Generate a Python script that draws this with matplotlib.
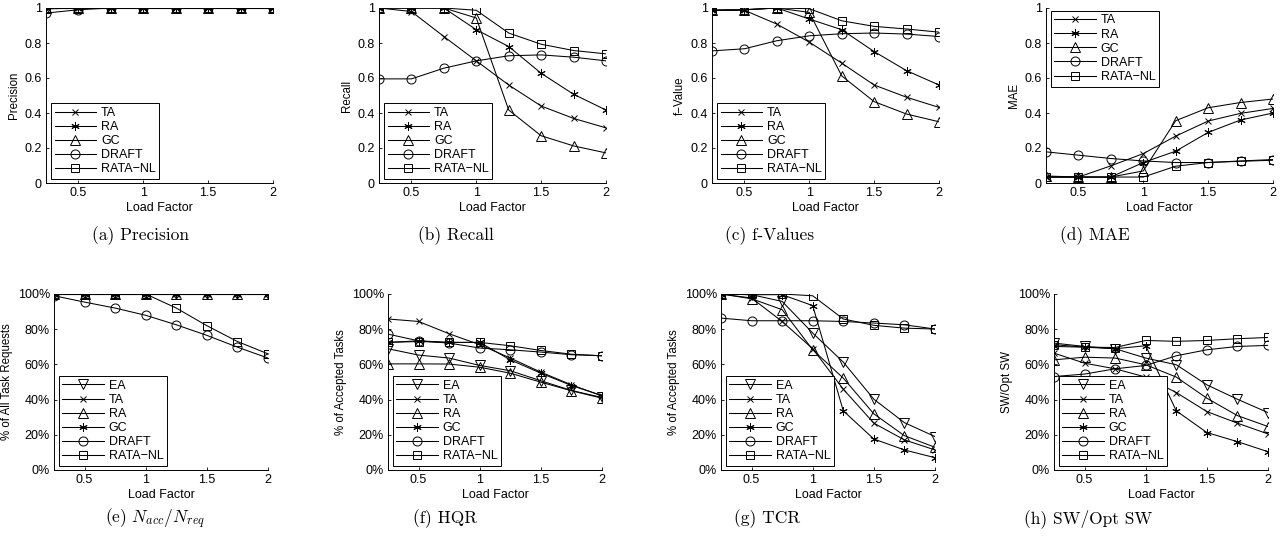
"""
Сравнение алгоритмов распределения задач по Load Factor (8 панелей)
"""

import matplotlib
matplotlib.use('Agg')  # Без GUI
import matplotlib.pyplot as plt

plt.rcParams['font.family'] = ['Liberation Sans', 'DejaVu Sans']
plt.rcParams['mathtext.fontset'] = 'cm'

load_factor = [0.25, 0.5, 0.75, 1.0, 1.25, 1.5, 1.75, 2.0]

# === ВЕРХНИЙ РЯД: Precision / Recall / f-Value / MAE ===
top_names = ['TA', 'RA', 'GC', 'DRAFT', 'RATA\u2212NL']

precision_ta = [0.995, 1.0, 1.0, 1.0, 1.0, 1.0, 1.0, 1.0]
precision_ra = [1.0, 1.0, 1.0, 1.0, 1.0, 1.0, 1.0, 1.0]
precision_gc = [1.0, 1.0, 1.0, 1.0, 1.0, 1.0, 1.0, 1.0]
precision_draft = [0.971, 0.99, 1.0, 1.0, 1.0, 1.0, 1.0, 1.0]
precision_rata = [1.0, 1.0, 1.0, 1.0, 1.0, 1.0, 1.0, 1.0]

recall_ta = [1.0, 0.98, 0.837, 0.698, 0.56, 0.44, 0.369, 0.315]
recall_ra = [1.0, 1.0, 1.0, 0.876, 0.78, 0.627, 0.507, 0.417]
recall_gc = [1.0, 1.0, 1.0, 0.943, 0.417, 0.27, 0.212, 0.172]
recall_draft = [0.595, 0.595, 0.656, 0.698, 0.727, 0.732, 0.719, 0.698]
recall_rata = [1.0, 1.0, 1.0, 0.987, 0.857, 0.793, 0.757, 0.738]

fvalue_ta = [0.987, 0.987, 0.908, 0.805, 0.685, 0.56, 0.49, 0.432]
fvalue_ra = [0.987, 0.99, 1.0, 0.937, 0.876, 0.751, 0.642, 0.56]
fvalue_gc = [0.987, 0.99, 1.0, 0.975, 0.612, 0.465, 0.394, 0.35]
fvalue_draft = [0.755, 0.767, 0.813, 0.841, 0.853, 0.857, 0.851, 0.837]
fvalue_rata = [0.987, 0.99, 1.0, 0.996, 0.927, 0.895, 0.88, 0.862]

mae_ta = [0.034, 0.034, 0.098, 0.168, 0.268, 0.354, 0.398, 0.426]
mae_ra = [0.034, 0.034, 0.034, 0.117, 0.182, 0.289, 0.36, 0.40]
mae_gc = [0.04, 0.034, 0.034, 0.069, 0.356, 0.43, 0.46, 0.48]
mae_draft = [0.178, 0.159, 0.14, 0.126, 0.117, 0.117, 0.124, 0.13]
mae_rata = [0.034, 0.034, 0.034, 0.034, 0.096, 0.117, 0.126, 0.134]

# === НИЖНИЙ РЯД: Nacc/Nreq / HQR / TCR / SW (в процентах) ===
bottom_names = ['EA', 'TA', 'RA', 'GC', 'DRAFT', 'RATA\u2212NL']

nacc_ea = [100, 100, 100, 100, 100, 100, 100, 100]
nacc_ta = [100, 100, 100, 100, 100, 100, 100, 100]
nacc_ra = [100, 100, 100, 100, 100, 100, 100, 100]
nacc_gc = [100, 100, 100, 100, 100, 100, 100, 100]
nacc_draft = [99.0, 95.4, 92.0, 87.9, 82.5, 76.5, 69.8, 63.6]
nacc_rata = [100, 100, 100, 100, 92.0, 82.0, 73.0, 66.0]

hqr_ea = [68.9, 65.3, 63.6, 59.4, 56.4, 50.7, 45.2, 41.2]
hqr_ta = [85.8, 84.4, 77.4, 71.2, 63.6, 55.6, 48.4, 42.1]
hqr_ra = [60.3, 60.3, 60.2, 58.4, 55.0, 49.9, 45.0, 40.8]
hqr_gc = [72.5, 73.4, 72.5, 72.5, 62.6, 55.0, 48.0, 42.3]
hqr_draft = [77.2, 73.4, 72.1, 69.3, 68.3, 67.0, 65.5, 64.9]
hqr_rata = [72.5, 73.0, 72.5, 72.5, 70.6, 67.9, 65.8, 64.9]

tcr_ea = [100, 99.6, 95.8, 77.8, 61.3, 40.2, 26.9, 19.0]
tcr_ta = [100, 97.7, 84.4, 68.9, 45.9, 26.6, 17.1, 11.4]
tcr_ra = [100, 97.3, 91.1, 68.3, 52.2, 31.9, 19.5, 12.9]
tcr_gc = [100, 99.6, 99.6, 93.4, 33.6, 17.6, 11.4, 7.0]
tcr_draft = [86.3, 84.8, 84.8, 84.8, 84.4, 83.5, 82.5, 80.1]
tcr_rata = [100, 100, 100, 99.0, 85.8, 82.2, 80.6, 80.1]

sw_ea = [72.1, 70.2, 68.9, 63.6, 59.8, 48.4, 40.2, 32.6]
sw_ta = [66.4, 60.7, 57.5, 52.8, 44.0, 33.2, 26.6, 20.5]
sw_ra = [62.6, 64.1, 63.6, 59.8, 52.8, 40.8, 30.9, 24.7]
sw_gc = [70.2, 69.8, 68.9, 70.6, 33.6, 21.3, 16.1, 10.4]
sw_draft = [53.1, 54.5, 57.5, 59.4, 64.9, 68.3, 70.2, 70.8]
sw_rata = [71.2, 69.8, 69.6, 73.6, 73.1, 73.6, 74.6, 75.3]

ASTERISK = (6, 2, 0)  # звёздочка как в MATLAB
top_markers = ['x', ASTERISK, '^', 'o', 's']
bottom_markers = ['v', 'x', '^', ASTERISK, 'o', 's']

W, H = 1283, 551


def marker_size(m):
    if m == 'x':
        return 4
    if m == ASTERISK:
        return 6
    if m in ('^', 'v'):
        return 7
    if m == 'o':
        return 6.5
    return 5.5


def px_axes(fig, left, top, width, height):
    """Оси по пиксельным координатам"""
    return fig.add_axes([left / W, (H - top - height) / H, width / W, height / H])


def draw_panel(ax, series, names, markers, ylabel, percent, legend_loc):
    for ys, name, m in zip(series, names, markers):
        ax.plot(load_factor, ys, color='black', lw=0.75, marker=m,
                ms=marker_size(m), mfc='none', mec='black', mew=0.7, label=name)

    ax.set_xlim(0.25, 2)
    ax.set_xticks([0.5, 1, 1.5, 2])
    ax.set_xticklabels(['0.5', '1', '1.5', '2'])
    if percent:
        ax.set_ylim(0, 100)
        ax.set_yticks([0, 20, 40, 60, 80, 100])
        ax.set_yticklabels([f'{v}%' for v in range(0, 101, 20)])
    else:
        ax.set_ylim(0, 1)
        ax.set_yticks([0, 0.2, 0.4, 0.6, 0.8, 1])
        ax.set_yticklabels(['0', '0.2', '0.4', '0.6', '0.8', '1'])

    for s in ['top', 'right']:
        ax.spines[s].set_visible(False)
    for s in ['left', 'bottom']:
        ax.spines[s].set_linewidth(0.7)
    ax.tick_params(direction='in', length=2.5, width=0.6, labelsize=9, pad=3)
    ax.set_xlabel('Load Factor', fontsize=9, labelpad=2)
    ax.set_ylabel(ylabel, fontsize=8.3, labelpad=3)

    if legend_loc == 'upper':
        anchor = (0.02, 0.985)
        loc = 'upper left'
    else:
        anchor = (0.022, 0.022)
        loc = 'lower left'
    leg = ax.legend(loc=loc, bbox_to_anchor=anchor, fontsize=9, handlelength=3.3,
                    handletextpad=0.4, labelspacing=0.17, borderpad=0.3,
                    borderaxespad=0, fancybox=False, framealpha=1)
    leg.get_frame().set_edgecolor('black')
    leg.get_frame().set_linewidth(0.7)


fig = plt.figure(figsize=(W / 100, H / 100), dpi=100)

top_panels = [
    (46, [precision_ta, precision_ra, precision_gc, precision_draft, precision_rata], 'Precision', 'lower'),
    (379, [recall_ta, recall_ra, recall_gc, recall_draft, recall_rata], 'Recall', 'lower'),
    (712, [fvalue_ta, fvalue_ra, fvalue_gc, fvalue_draft, fvalue_rata], 'f\u2212Value', 'lower'),
    (1046, [mae_ta, mae_ra, mae_gc, mae_draft, mae_rata], 'MAE', 'upper'),
]
for left, series, ylabel, lloc in top_panels:
    ax = px_axes(fig, left, 8, 227, 175)
    draw_panel(ax, series, top_names, top_markers, ylabel, False, lloc)

bottom_panels = [
    (54, [nacc_ea, nacc_ta, nacc_ra, nacc_gc, nacc_draft, nacc_rata], '% of All Task Requests'),
    (388, [hqr_ea, hqr_ta, hqr_ra, hqr_gc, hqr_draft, hqr_rata], '% of Accepted Tasks'),
    (721, [tcr_ea, tcr_ta, tcr_ra, tcr_gc, tcr_draft, tcr_rata], '% of Accepted Tasks'),
    (1054, [sw_ea, sw_ta, sw_ra, sw_gc, sw_draft, sw_rata], 'SW/Opt SW'),
]
for left, series, ylabel in bottom_panels:
    ax = px_axes(fig, left, 294, 214, 176)
    draw_panel(ax, series, bottom_names, bottom_markers, ylabel, True, 'lower')

# Подписи панелей
captions = [
    (141, 236, '(a) Precision'), (456, 236, '(b) Recall'),
    (770, 236, '(c) f-Values'), (1095, 236, '(d) MAE'),
    (155, 519, r'(e) $N_{acc}/N_{req}$'), (445, 519, '(f) HQR'),
    (767, 519, '(g) TCR'), (1088, 519, '(h) SW/Opt SW'),
]
for x, y, txt in captions:
    fig.text(x / W, 1 - y / H, txt, ha='center', va='center', fontsize=12.5,
             family=['cmr10', 'DejaVu Serif'], math_fontfamily='cm')

fig.savefig('out.png', dpi=100)
plt.close(fig)
